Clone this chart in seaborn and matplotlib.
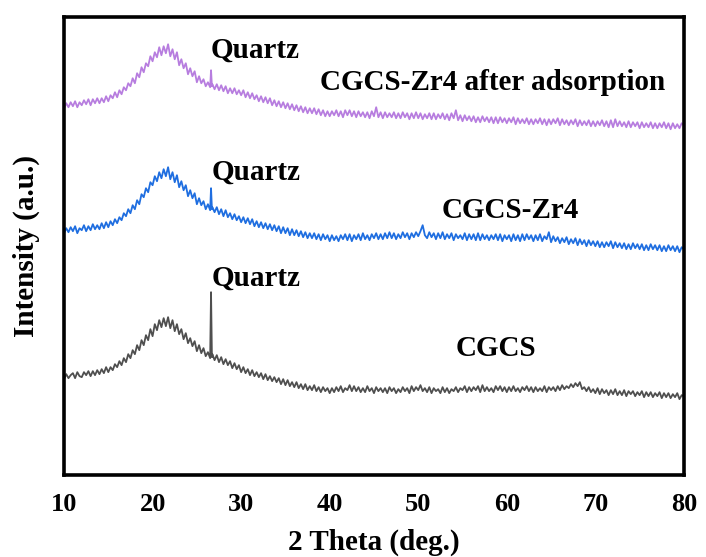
import matplotlib
matplotlib.use('Agg')
import matplotlib.pyplot as plt
import seaborn as sns
import numpy as np
import pandas as pd

# 2 theta grid (deg.), 0.25 step
theta = np.arange(10, 80.001, 0.25)

cgcs = [96, 101, 97, 100, 102, 97, 103, 99, 98, 103, 100, 104, 99, 104, 100, 105,
        101, 106, 102, 108, 103, 108, 105, 111, 108, 114, 110, 117, 113, 121, 117, 125,
        121, 130, 125, 135, 130, 140, 135, 146, 139, 151, 145, 155, 148, 157, 149, 158,
        147, 155, 144, 151, 141, 146, 136, 142, 132, 137, 129, 134, 124, 130, 122, 127,
        119, 123, 117, 121,
        115, 120, 113, 118, 111, 116, 110, 114, 107, 112, 106, 110, 103, 108, 102, 106,
        100, 105, 99, 103, 98, 102, 96, 101, 95, 99, 94, 98, 93, 97, 91, 96,
        90, 95, 89, 93, 88, 93, 87, 91, 86, 91, 85, 89, 85, 90, 84, 88,
        83, 88, 84, 87, 82, 87, 83, 88, 84, 89, 83, 87, 85, 90, 84, 89,
        84, 88, 83, 87, 83, 89, 84, 87, 82, 88, 84, 87, 83, 87, 82, 88,
        84, 87, 82, 86, 83, 88, 84, 87, 82, 89, 84, 88, 85, 90, 84, 87,
        83, 88, 82, 87, 84, 86, 82, 88, 83, 87, 82, 86, 84, 88, 83, 87,
        85, 89, 83, 88, 84, 88, 85, 89, 83, 90, 84, 88, 84, 87, 83, 89,
        85, 89, 84, 88, 83, 88, 84, 89, 84, 87, 83, 88, 85, 89, 84, 88,
        83, 88, 84, 87, 84, 89, 83, 88, 85, 88, 84, 89, 85, 90, 86, 89,
        87, 91, 88, 92, 89, 93, 86, 88, 84, 88, 83, 86, 82, 87, 81, 86,
        82, 85, 80, 85, 81, 86, 80, 84, 80, 85, 79, 84, 81, 84, 79, 83,
        80, 84, 78, 83, 79, 83, 78, 82, 79, 83, 77, 82, 78, 82, 77, 81,
        78, 82, 76, 80, 79]

cgcs_zr4 = [242, 247, 243, 248, 244, 249, 242, 247, 245, 250, 244, 249, 245, 251, 246, 250,
            246, 252, 247, 253, 248, 254, 250, 256, 252, 258, 255, 262, 259, 266, 262, 270,
            266, 275, 271, 281, 278, 287, 283, 293, 290, 299, 294, 303, 297, 306, 299, 308,
            296, 303, 293, 300, 288, 294, 285, 290, 279, 285, 277, 282, 271, 277, 270, 274,
            266, 271, 265, 268,
            263, 268, 261, 266, 259, 265, 258, 262, 256, 261, 255, 259, 253, 258, 252, 257,
            251, 256, 249, 254, 248, 253, 247, 252, 246, 251, 245, 250, 244, 249, 242, 248,
            242, 247, 240, 246, 240, 245, 239, 244, 238, 243, 237, 242, 237, 242, 236, 241,
            235, 241, 236, 240, 234, 240, 235, 239, 234, 240, 236, 241, 235, 241, 234, 240,
            236, 241, 235, 242, 236, 240, 235, 241, 237, 242, 236, 241, 236, 242, 237, 243,
            237, 242, 236, 241, 237, 243, 238, 242, 236, 242, 238, 243, 239, 244, 250, 240,
            237, 243, 238, 242, 236, 242, 237, 243, 236, 241, 237, 242, 235, 241, 237, 240,
            236, 242, 235, 241, 236, 241, 235, 242, 235, 241, 236, 240, 235, 240, 236, 241,
            235, 241, 234, 240, 236, 240, 234, 241, 235, 240, 234, 241, 235, 241, 236, 240,
            234, 240, 235, 241, 234, 239, 236, 243, 233, 239, 234, 238, 232, 237, 233, 238,
            231, 236, 232, 237, 230, 236, 231, 235, 229, 235, 230, 234, 229, 234, 228, 233,
            228, 233, 229, 234, 227, 233, 228, 232, 227, 232, 226, 231, 226, 232, 227, 231,
            226, 231, 225, 230, 225, 231, 226, 230, 225, 230, 224, 229, 224, 230, 225, 229,
            224, 229, 223, 228, 226]

cgcs_zr4_ads = [367, 372, 368, 373, 369, 374, 368, 373, 370, 375, 371, 376, 370, 376, 372, 377,
                372, 377, 373, 379, 374, 380, 377, 383, 378, 385, 381, 388, 385, 392, 389, 397,
                392, 402, 398, 408, 403, 412, 409, 419, 414, 423, 418, 428, 420, 429, 422, 431,
                419, 426, 416, 423, 410, 416, 407, 412, 401, 407, 399, 404, 393, 399, 392, 396,
                389, 393, 388, 391,
                386, 391, 385, 390, 384, 389, 382, 387, 382, 387, 381, 385, 380, 385, 378, 383,
                377, 382, 376, 380, 374, 379, 373, 378, 372, 377, 370, 375, 369, 374, 368, 373,
                367, 372, 366, 371, 365, 370, 364, 369, 363, 368, 362, 367, 362, 367, 361, 366,
                360, 365, 359, 364, 359, 364, 360, 365, 359, 364, 358, 365, 360, 365, 359, 364,
                358, 364, 359, 363, 358, 363, 357, 364, 359, 368, 358, 363, 357, 363, 358, 362,
                358, 363, 357, 362, 357, 363, 358, 362, 356, 362, 357, 363, 357, 362, 356, 361,
                357, 362, 356, 362, 356, 361, 357, 362, 356, 361, 355, 362, 357, 365, 355, 360,
                354, 360, 355, 359, 354, 359, 353, 358, 353, 359, 354, 358, 353, 358, 352, 358,
                352, 358, 353, 357, 352, 357, 353, 358, 351, 357, 352, 356, 352, 357, 351, 356,
                351, 356, 352, 357, 351, 356, 350, 356, 351, 356, 352, 357, 350, 356, 351, 355,
                350, 355, 351, 356, 349, 355, 350, 354, 350, 355, 349, 354, 349, 354, 350, 355,
                349, 354, 348, 355, 348, 356, 349, 354, 349, 353, 348, 354, 348, 353, 349, 353,
                347, 353, 348, 352, 348, 353, 347, 352, 347, 352, 348, 353, 347, 352, 346, 352,
                347, 351, 347, 352, 350]

# narrow quartz reflection near 26.6 deg
quartz_theta = [26.6, 26.7]
cgcs_quartz = [183, 118]
cgcs_zr4_quartz = [287, 266]
cgcs_zr4_ads_quartz = [405, 389]

names = ['CGCS', 'CGCS-Zr4', 'CGCS-Zr4 after adsorption']
colors = ['#4f4f4f', '#1f6ee0', '#b77ddf']

frames = []
for name, main, peak in zip(names, [cgcs, cgcs_zr4, cgcs_zr4_ads],
                            [cgcs_quartz, cgcs_zr4_quartz, cgcs_zr4_ads_quartz]):
    frames.append(pd.DataFrame({'theta': theta, 'intensity': main, 'sample': name}))
    frames.append(pd.DataFrame({'theta': quartz_theta, 'intensity': peak, 'sample': name}))
df = pd.concat(frames, ignore_index=True)

sns.set_style('white')
plt.rcParams['font.family'] = ['Liberation Serif', 'DejaVu Serif']
plt.rcParams['font.weight'] = 'bold'
plt.rcParams['text.color'] = 'black'
plt.rcParams['axes.labelcolor'] = 'black'
plt.rcParams['xtick.color'] = 'black'

fig = plt.figure(figsize=(7.06, 5.57), dpi=100)
ax = fig.add_axes([0.0907, 0.147, 0.878, 0.822])

sns.lineplot(data=df, x='theta', y='intensity', hue='sample', palette=dict(zip(names, colors)),
             estimator=None, sort=True, linewidth=1.3, legend=False, ax=ax)

ax.set_xlim(10, 80)
ax.set_ylim(0, 458)
ax.set_xticks(range(10, 81, 10))
ax.set_yticks([])
ax.tick_params(axis='x', direction='out', length=5, width=2.5, labelsize=19, pad=8)
for lab in ax.get_xticklabels():
    lab.set_fontweight('bold')
for sp in ax.spines.values():
    sp.set_linewidth(2.6)
    sp.set_color('black')

ax.set_xlabel('2 Theta (deg.)', fontsize=21, fontweight='bold', labelpad=9)
ax.set_ylabel('Intensity (a.u.)', fontsize=21, fontweight='bold', labelpad=17)

txt = dict(fontsize=21, fontweight='bold', ha='center', va='center', color='black')
ax.text(31.6, 425, 'Quartz', **txt)
ax.text(31.7, 303, 'Quartz', **txt)
ax.text(31.7, 197, 'Quartz', **txt)
ax.text(58.4, 393, 'CGCS-Zr4 after adsorption', **txt)
ax.text(60.4, 265, 'CGCS-Zr4', **txt)
ax.text(58.8, 127, 'CGCS', **txt)

fig.savefig('out.png', dpi=100)
